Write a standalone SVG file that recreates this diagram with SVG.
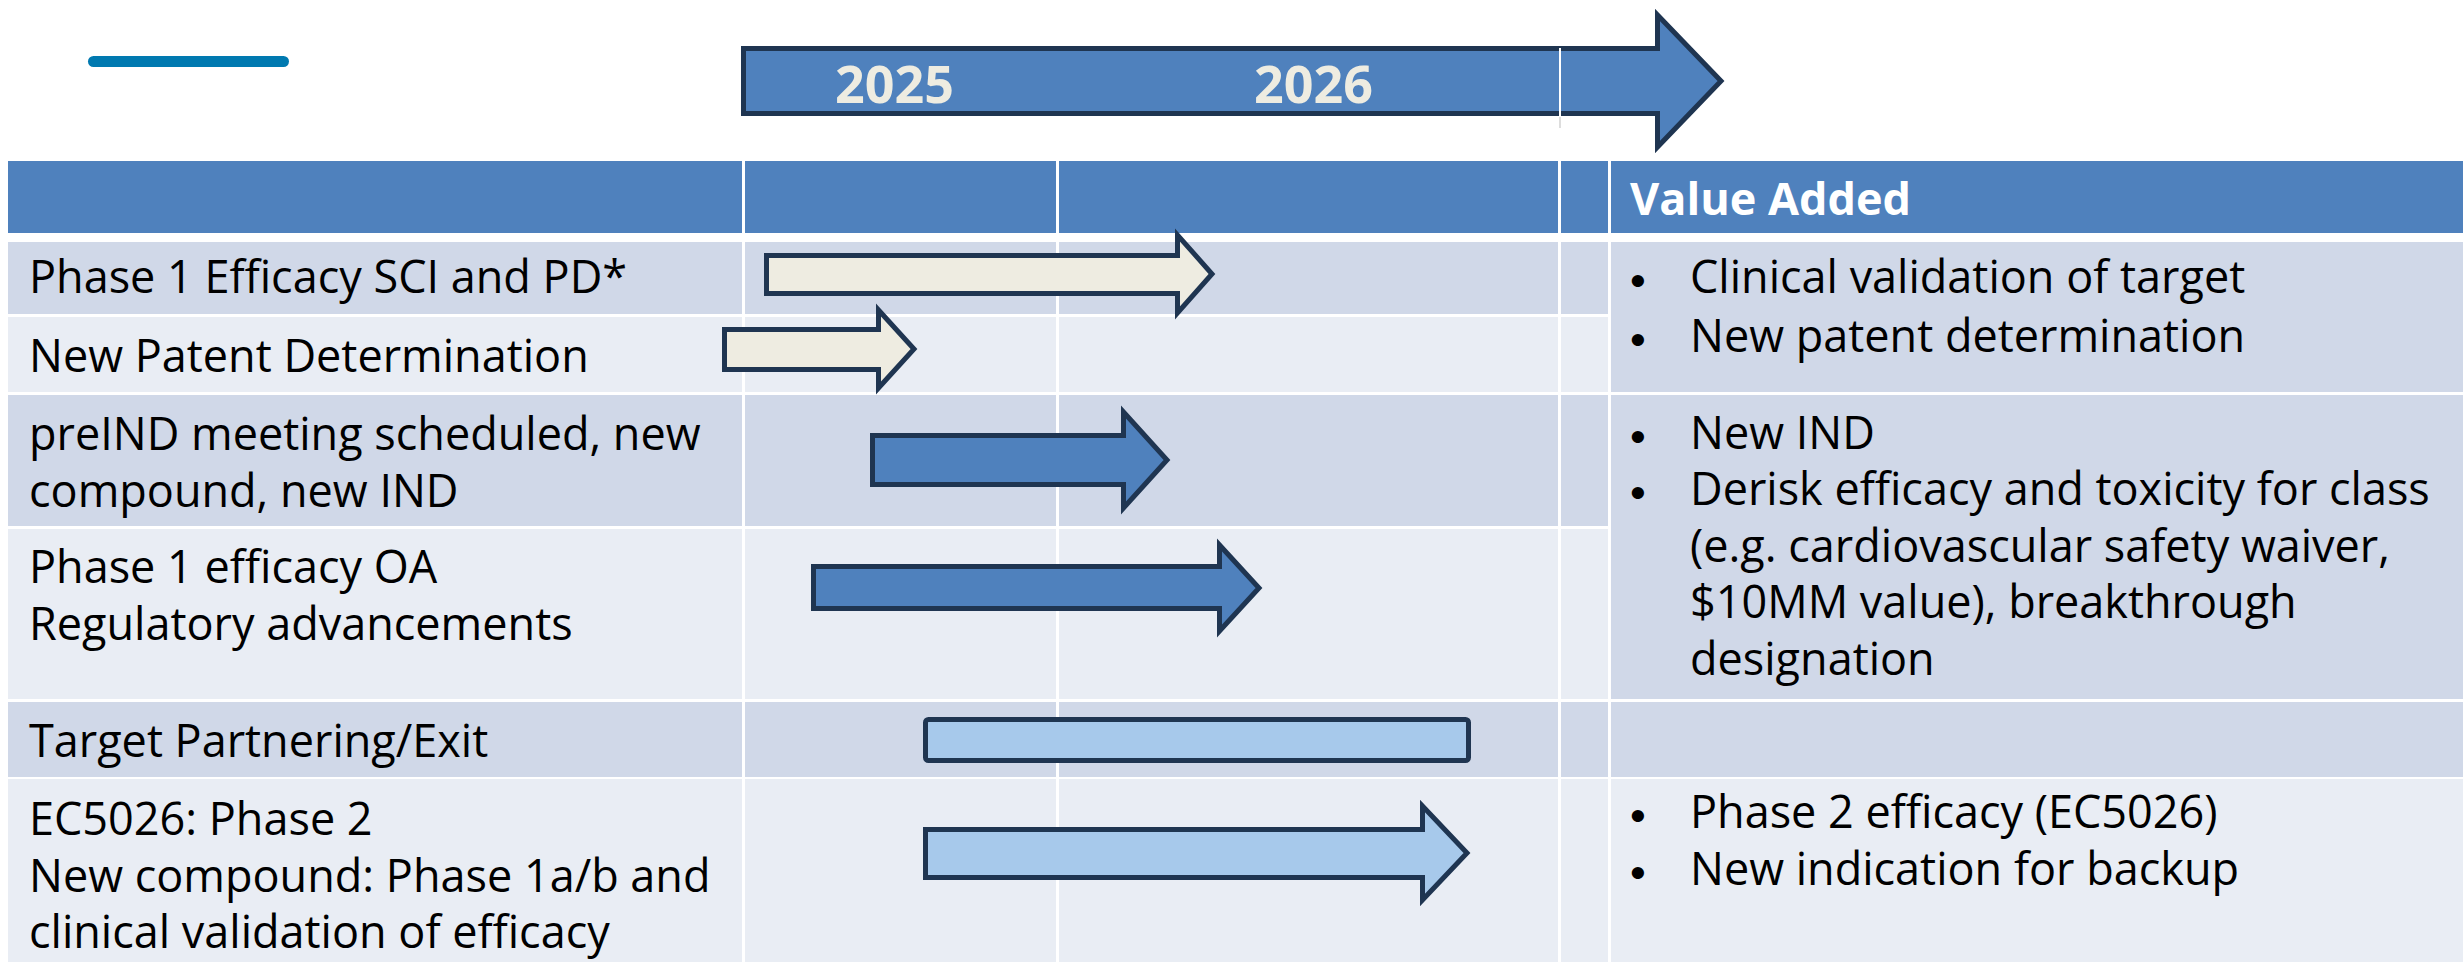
<svg xmlns="http://www.w3.org/2000/svg" width="2463" height="962" viewBox="0 0 2463 962">
  <style>
    .hdr { fill: #4F81BD; }
    .dk { fill: #D0D8E8; }
    .lt { fill: #E9EDF4; }
    .lbl { font-family: "Open Sans", "Noto Sans", sans-serif; font-size: 45px; fill: #000000; }
    .val { font-family: "Open Sans", "Noto Sans", sans-serif; font-size: 45px; fill: #000000; }
    .dot { font-family: "Liberation Sans", Arial, sans-serif; font-size: 45px; fill: #000000; }
    .head { font-family: "Open Sans", "Noto Sans", sans-serif; font-size: 45px; font-weight: bold; fill: #FFFFFF; }
    .year { font-family: "Open Sans", "Noto Sans", sans-serif; font-size: 52px; font-weight: bold; fill: #EEECE1; }
    .bar { stroke: #1F3551; stroke-width: 5; stroke-linejoin: miter; stroke-miterlimit: 4; }
    .cream { fill: #EEECE1; }
    .blue { fill: #4F81BD; }
    .sky { fill: #A7C9EB; }
  </style>

  <rect x="0" y="0" width="2463" height="962" fill="#FFFFFF"/>

  <!-- title accent bar -->
  <rect id="accent" x="88" y="56" width="201" height="11" rx="5.5" fill="#0079B0"/>

  <!-- timeline arrow with year labels -->
  <g id="timeline">
    <path class="bar blue" d="M743.5,48.5 H1657.5 V15 L1721,81 L1657.5,147 V113.5 H743.5 Z"/>
    <line x1="1560" y1="48" x2="1560" y2="117" stroke="#FFFFFF" stroke-width="2"/>
    <line x1="1560" y1="117" x2="1560" y2="128" stroke="#C8C8C8" stroke-width="2" opacity="0.6"/>
    <text class="year" x="835" y="103">2025</text>
    <text class="year" x="1254" y="103">2026</text>
  </g>

  <!-- table header -->
  <g id="header">
    <rect class="hdr" x="8" y="161" width="734" height="72"/>
    <rect class="hdr" x="745" y="161" width="311" height="72"/>
    <rect class="hdr" x="1059" y="161" width="499" height="72"/>
    <rect class="hdr" x="1561" y="161" width="47" height="72"/>
    <rect class="hdr" x="1611" y="161" width="852" height="72"/>
    <text class="head" x="1630" y="215">Value Added</text>
  </g>

  <!-- value-added cells (merged across rows) -->
  <g id="value-cells">
    <rect class="dk" x="1611" y="242" width="852" height="150"/>
    <rect class="dk" x="1611" y="395" width="852" height="304"/>
    <rect class="dk" x="1611" y="702" width="852" height="75"/>
    <rect class="lt" x="1611" y="779" width="852" height="183"/>
  </g>

  <g id="row-phase1-sci">
    <rect class="dk" x="8" y="242" width="734" height="72"/>
    <rect class="dk" x="745" y="242" width="311" height="72"/>
    <rect class="dk" x="1059" y="242" width="499" height="72"/>
    <rect class="dk" x="1561" y="242" width="47" height="72"/>
    <text class="lbl" x="29" y="293">Phase 1 Efficacy SCI and PD*</text>
  </g>

  <g id="row-patent">
    <rect class="lt" x="8" y="317" width="734" height="75"/>
    <rect class="lt" x="745" y="317" width="311" height="75"/>
    <rect class="lt" x="1059" y="317" width="499" height="75"/>
    <rect class="lt" x="1561" y="317" width="47" height="75"/>
    <text class="lbl" x="29" y="372">New Patent Determination</text>
  </g>

  <g id="row-preind">
    <rect class="dk" x="8" y="395" width="734" height="131"/>
    <rect class="dk" x="745" y="395" width="311" height="131"/>
    <rect class="dk" x="1059" y="395" width="499" height="131"/>
    <rect class="dk" x="1561" y="395" width="47" height="131"/>
    <text class="lbl" x="29" y="450">preIND meeting scheduled, new</text>
    <text class="lbl" x="29" y="507">compound, new IND</text>
  </g>

  <g id="row-phase1-oa">
    <rect class="lt" x="8" y="529" width="734" height="170"/>
    <rect class="lt" x="745" y="529" width="311" height="170"/>
    <rect class="lt" x="1059" y="529" width="499" height="170"/>
    <rect class="lt" x="1561" y="529" width="47" height="170"/>
    <text class="lbl" x="29" y="583">Phase 1 efficacy OA</text>
    <text class="lbl" x="29" y="640">Regulatory advancements</text>
  </g>

  <g id="row-partnering">
    <rect class="dk" x="8" y="702" width="734" height="75"/>
    <rect class="dk" x="745" y="702" width="311" height="75"/>
    <rect class="dk" x="1059" y="702" width="499" height="75"/>
    <rect class="dk" x="1561" y="702" width="47" height="75"/>
    <text class="lbl" x="29" y="757">Target Partnering/Exit</text>
  </g>

  <g id="row-ec5026">
    <rect class="lt" x="8" y="779" width="734" height="183"/>
    <rect class="lt" x="745" y="779" width="311" height="183"/>
    <rect class="lt" x="1059" y="779" width="499" height="183"/>
    <rect class="lt" x="1561" y="779" width="47" height="183"/>
    <text class="lbl" x="29" y="835">EC5026: Phase 2</text>
    <text class="lbl" x="29" y="892">New compound: Phase 1a/b and</text>
    <text class="lbl" x="29" y="948">clinical validation of efficacy</text>
  </g>

  <!-- value-added bullet lists -->
  <g id="value-target">
    <text class="dot" x="1630" y="296">•</text>
    <text class="val" x="1690" y="293">Clinical validation of target</text>
    <text class="dot" x="1630" y="355">•</text>
    <text class="val" x="1690" y="352">New patent determination</text>
  </g>
  <g id="value-ind">
    <text class="dot" x="1630" y="452">•</text>
    <text class="val" x="1690" y="449">New IND</text>
    <text class="dot" x="1630" y="508">•</text>
    <text class="val" x="1690" y="505">Derisk efficacy and toxicity for class</text>
    <text class="val" x="1690" y="562">(e.g. cardiovascular safety waiver,</text>
    <text class="val" x="1690" y="618">$10MM value), breakthrough</text>
    <text class="val" x="1690" y="675">designation</text>
  </g>
  <g id="value-phase2">
    <text class="dot" x="1630" y="831">•</text>
    <text class="val" x="1690" y="828">Phase 2 efficacy (EC5026)</text>
    <text class="dot" x="1630" y="888">•</text>
    <text class="val" x="1690" y="885">New indication for backup</text>
  </g>

  <!-- schedule bars -->
  <g id="bars">
    <path id="bar-phase1-sci" class="bar cream" d="M766.5,255.5 H1177.5 V235 L1212,274 L1177.5,313 V293.5 H766.5 Z"/>
    <path id="bar-patent" class="bar cream" d="M724.5,329.5 H878.5 V310 L914,349 L878.5,388 V369.5 H724.5 Z"/>
    <path id="bar-preind" class="bar blue" d="M872.5,435.5 H1123.5 V412 L1167,460 L1123.5,508 V484.5 H872.5 Z"/>
    <path id="bar-phase1-oa" class="bar blue" d="M813.5,566.5 H1219.5 V545 L1259,588 L1219.5,631 V608.5 H813.5 Z"/>
    <rect id="bar-partnering" class="bar sky" x="925.5" y="719.5" width="543" height="41" rx="3"/>
    <path id="bar-ec5026" class="bar sky" d="M925.5,829.5 H1422.5 V806 L1467,853 L1422.5,900 V877.5 H925.5 Z"/>
  </g>
</svg>
